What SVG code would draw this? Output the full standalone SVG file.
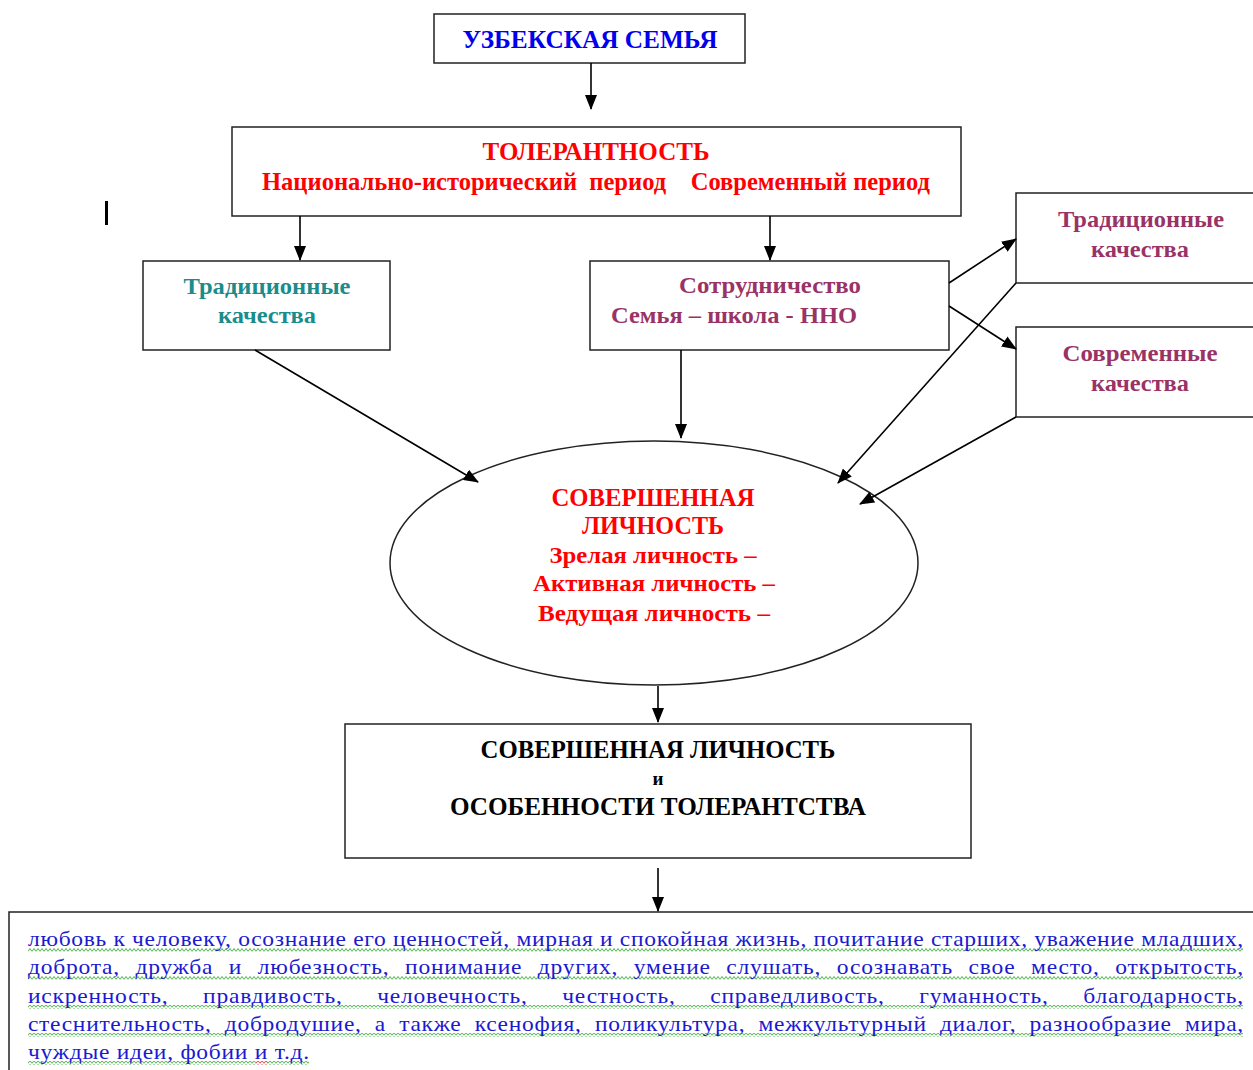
<svg xmlns="http://www.w3.org/2000/svg" width="1253" height="1070" viewBox="0 0 1253 1070">
<defs>
<marker id="ah" markerUnits="userSpaceOnUse" markerWidth="16" markerHeight="12" refX="14" refY="6" orient="auto">
<path d="M0,0 L15,6 L0,12 Z" fill="#000"/>
</marker>
<pattern id="wavyG" x="0" y="0" width="4" height="4" patternUnits="userSpaceOnUse">
<path d="M0,3.5 L2,0.5 L4,3.5" fill="none" stroke="#3aa83a" stroke-width="0.9"/>
</pattern>
<pattern id="wavyR" x="0" y="0" width="4" height="4" patternUnits="userSpaceOnUse">
<path d="M0,3.5 L2,0.5 L4,3.5" fill="none" stroke="#e03030" stroke-width="0.9"/>
</pattern>
</defs>
<style>
.box{fill:#fff;stroke:#222;stroke-width:1.5}
.t{font-family:"Liberation Serif","Times New Roman",serif;font-weight:bold;text-anchor:middle}
.q{font-family:"Liberation Serif","Times New Roman",serif;font-weight:bold;text-anchor:middle;font-size:24px}
.conn line{stroke:#000;stroke-width:1.6;marker-end:url(#ah)}
.body{font-family:"Liberation Serif","Times New Roman",serif;font-size:21px;fill:#1a1ad0}
</style>
<rect width="1253" height="1070" fill="#fff"/>

<rect x="105" y="201" width="3" height="24" fill="#000"/>

<g id="node-family">
<rect class="box" x="434" y="14" width="311" height="49"/>
<text class="t" x="590" y="48" font-size="25" fill="#0000ee" textLength="255" lengthAdjust="spacingAndGlyphs">УЗБЕКСКАЯ СЕМЬЯ</text>
</g>

<g id="node-tolerance">
<rect class="box" x="232" y="127" width="729" height="89"/>
<text class="t" x="596" y="160" font-size="26" fill="#ff0000" textLength="227" lengthAdjust="spacingAndGlyphs">ТОЛЕРАНТНОСТЬ</text>
<text class="t" x="596" y="190" font-size="25" fill="#ff0000" textLength="668" lengthAdjust="spacingAndGlyphs" xml:space="preserve">Национально-исторический  период    Современный период</text>
</g>

<g id="node-trad-left">
<rect class="box" x="143" y="261" width="247" height="89"/>
<text class="q" x="267" y="294" fill="#1b8c8c" textLength="167" lengthAdjust="spacingAndGlyphs">Традиционные</text>
<text class="q" x="267" y="323" fill="#1b8c8c" textLength="98" lengthAdjust="spacingAndGlyphs">качества</text>
</g>

<g id="node-coop">
<rect class="box" x="590" y="261" width="359" height="89"/>
<text class="q" x="770" y="293" fill="#993366" textLength="182" lengthAdjust="spacingAndGlyphs">Сотрудничество</text>
<text class="q" x="611" y="323" fill="#993366" style="text-anchor:start" textLength="246" lengthAdjust="spacingAndGlyphs">Семья – школа - ННО</text>
</g>

<g id="node-trad-right">
<rect class="box" x="1016" y="193" width="245" height="90"/>
<text class="q" x="1141" y="227" fill="#993366" textLength="166" lengthAdjust="spacingAndGlyphs">Традиционные</text>
<text class="q" x="1140" y="257" fill="#993366" textLength="98" lengthAdjust="spacingAndGlyphs">качества</text>
</g>

<g id="node-modern">
<rect class="box" x="1016" y="327" width="245" height="90"/>
<text class="q" x="1140" y="361" fill="#993366" textLength="155" lengthAdjust="spacingAndGlyphs">Современные</text>
<text class="q" x="1140" y="391" fill="#993366" textLength="98" lengthAdjust="spacingAndGlyphs">качества</text>
</g>

<g id="node-person">
<ellipse cx="654" cy="563" rx="264" ry="122" fill="#fff" stroke="#222" stroke-width="1.5"/>
<text class="t" x="653" y="506" font-size="26" fill="#ff0000" textLength="203" lengthAdjust="spacingAndGlyphs">СОВЕРШЕННАЯ</text>
<text class="t" x="653" y="534" font-size="26" fill="#ff0000" textLength="142" lengthAdjust="spacingAndGlyphs">ЛИЧНОСТЬ</text>
<text class="t" x="653" y="563" font-size="24" fill="#ff0000" textLength="207" lengthAdjust="spacingAndGlyphs">Зрелая личность –</text>
<text class="t" x="654" y="591" font-size="24" fill="#ff0000" textLength="242" lengthAdjust="spacingAndGlyphs">Активная личность –</text>
<text class="t" x="654" y="621" font-size="24" fill="#ff0000" textLength="232" lengthAdjust="spacingAndGlyphs">Ведущая личность –</text>
</g>

<g id="node-features">
<rect class="box" x="345" y="724" width="626" height="134"/>
<text class="t" x="658" y="758" font-size="26" fill="#000" textLength="355" lengthAdjust="spacingAndGlyphs">СОВЕРШЕННАЯ ЛИЧНОСТЬ</text>
<text class="t" x="658" y="785" font-size="19" fill="#000">и</text>
<text class="t" x="658" y="815" font-size="26" fill="#000" textLength="416" lengthAdjust="spacingAndGlyphs">ОСОБЕННОСТИ ТОЛЕРАНТСТВА</text>
</g>

<g id="node-list">
<rect class="box" x="9" y="912" width="1260" height="170"/>
<rect x="28" y="948" width="1215" height="4" fill="url(#wavyG)"/>
<rect x="28" y="976" width="1215" height="4" fill="url(#wavyG)"/>
<rect x="28" y="1005" width="1215" height="4" fill="url(#wavyG)"/>
<rect x="28" y="1033" width="1215" height="4" fill="url(#wavyG)"/>
<rect x="28" y="1061" width="228" height="4" fill="url(#wavyG)"/>
<rect x="256" y="1061" width="12" height="4" fill="url(#wavyR)"/>
<rect x="268" y="1061" width="41" height="4" fill="url(#wavyG)"/>
<g transform="translate(28,0) scale(1.12,1)">
<text class="body" x="0" y="946" textLength="1085" lengthAdjust="spacing">любовь к человеку, осознание его ценностей, мирная и спокойная жизнь, почитание старших, уважение младших,</text>
<text class="body" x="0" y="974" word-spacing="8" textLength="1085" lengthAdjust="spacing">доброта, дружба и любезность, понимание других, умение слушать, осознавать свое место, открытость,</text>
<text class="body" x="0" y="1003" word-spacing="25" textLength="1085" lengthAdjust="spacing">искренность, правдивость, человечность, честность, справедливость, гуманность, благодарность,</text>
<text class="body" x="0" y="1031" word-spacing="6" textLength="1085" lengthAdjust="spacing">стеснительность, добродушие, а также ксенофия, поликультура, межкультурный диалог, разнообразие мира,</text>
<text class="body" x="0" y="1059" textLength="251" lengthAdjust="spacing">чуждые идеи, фобии и т.д.</text>
</g>
</g>

<g id="connectors" class="conn">
<line x1="591" y1="63" x2="591" y2="109"/>
<line x1="300" y1="216" x2="300" y2="260"/>
<line x1="770" y1="216" x2="770" y2="260"/>
<line x1="949" y1="283" x2="1016" y2="239"/>
<line x1="949" y1="306" x2="1016" y2="349"/>
<line x1="255" y1="350" x2="478" y2="482"/>
<line x1="681" y1="350" x2="681" y2="438"/>
<line x1="1016" y1="283" x2="838" y2="483"/>
<line x1="1016" y1="417" x2="860" y2="504"/>
<line x1="658" y1="686" x2="658" y2="722"/>
<line x1="658" y1="868" x2="658" y2="911"/>
</g>
</svg>
